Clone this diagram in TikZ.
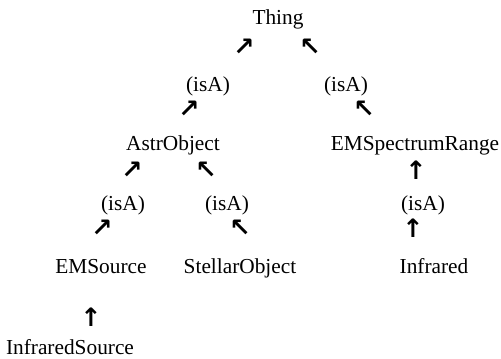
\documentclass[tikz,border=0pt]{standalone}
\usepackage{fontspec}
\setmainfont{Liberation Serif}
\newfontfamily\arrowfont{DejaVu Sans}
\begin{document}
\begin{tikzpicture}[x=0.75pt,y=-0.75pt,
  lbl/.style={inner sep=0pt,anchor=base,font=\fontsize{16}{18}\selectfont},
  arr/.style={inner sep=0pt,anchor=center,font=\arrowfont\bfseries\fontsize{19}{20}\selectfont}]
\useasboundingbox (0,0) rectangle (501,358);
% row 0
\node[lbl] (thing) at (278,24) {Thing};
\node[arr] (a1) at (244,47) {↗};
\node[arr] (a2) at (310,47) {↖};
% row 1
\node[lbl] (isa1) at (208,91) {(isA)};
\node[lbl] (isa2) at (346,91) {(isA)};
\node[arr] (a3) at (189,109) {↗};
\node[arr] (a4) at (364,109) {↖};
% row 2
\node[lbl] (astr) at (173,150) {AstrObject};
\node[lbl] (emsr) at (415,150) {EMSpectrumRange};
\node[arr] (a5) at (132,170) {↗};
\node[arr] (a6) at (206,170) {↖};
\node[arr] (a7) at (416,170) {↑};
% row 3
\node[lbl] (isa3) at (123,210) {(isA)};
\node[lbl] (isa4) at (227,210) {(isA)};
\node[lbl] (isa5) at (423,210) {(isA)};
\node[arr] (a8) at (102,228) {↗};
\node[arr] (a9) at (240,228) {↖};
\node[arr] (a10) at (413,228) {↑};
% row 4
\node[lbl] (ems) at (101,273) {EMSource};
\node[lbl] (stel) at (240,273) {StellarObject};
\node[lbl] (infr) at (434,273) {Infrared};
\node[arr] (a11) at (91,317) {↑};
% row 5
\node[lbl] (irs) at (70,354) {InfraredSource};
\end{tikzpicture}
\end{document}
